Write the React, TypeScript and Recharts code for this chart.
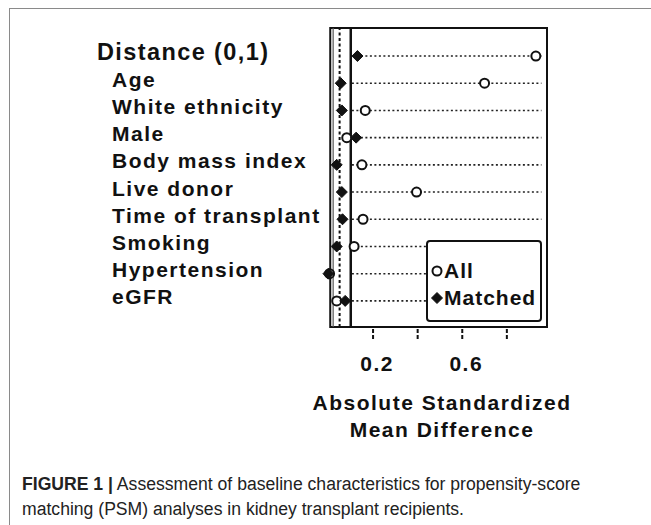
import {
  Legend,
  ReferenceArea,
  ReferenceLine,
  Scatter,
  ScatterChart,
  XAxis,
  YAxis,
} from "recharts";

const categories = [
  "Distance (0,1)",
  "Age",
  "White ethnicity",
  "Male",
  "Body mass index",
  "Live donor",
  "Time of transplant",
  "Smoking",
  "Hypertension",
  "eGFR",
];
const allValues = [0.93, 0.7, 0.165, 0.082, 0.15, 0.395, 0.155, 0.115, 0.005, 0.037];
const matchedValues = [0.13, 0.055, 0.06, 0.124, 0.037, 0.06, 0.063, 0.037, 0.0, 0.075];
const xTicks = [0.2, 0.4, 0.6, 0.8];
const xTickLabels = ["0.2", "", "0.6", ""];

const allData = allValues.map((x, i) => ({ x, y: i, name: categories[i] }));
const matchedData = matchedValues.map((x, i) => ({ x, y: i, name: categories[i] }));

const FONT = "'Liberation Sans', Arial, Helvetica, sans-serif";
const INK = "#111";

function OpenCircle({ cx, cy }: any) {
  return <circle cx={cx} cy={cy} r={4.5} fill="#fff" stroke={INK} strokeWidth={2} />;
}

function Diamond({ cx, cy }: any) {
  const r = 5.5;
  return (
    <polygon
      points={`${cx - r},${cy} ${cx},${cy - r} ${cx + r},${cy} ${cx},${cy + r}`}
      fill={INK}
      stroke={INK}
      strokeWidth={1}
    />
  );
}

function CategoryTick({ x, y, payload }: any) {
  const i = payload.value;
  const first = i === 0;
  return (
    <text
      x={x - (first ? 227 : 212)}
      y={y - 4}
      dy="0.36em"
      textAnchor="start"
      fontFamily={FONT}
      fontWeight={700}
      fontSize={first ? 23.5 : 21}
      letterSpacing={first ? 1.4 : 1.5}
      fill={INK}
    >
      {categories[i]}
    </text>
  );
}

function AxisTitle({ viewBox }: any) {
  const cx = 442;
  return (
    <text
      textAnchor="middle"
      fontFamily={FONT}
      fontWeight={700}
      fontSize={21}
      letterSpacing={1.5}
      fill={INK}
    >
      <tspan x={cx} y={viewBox.y + 83}>Absolute Standardized</tspan>
      <tspan x={cx} y={viewBox.y + 110}>Mean Difference</tspan>
    </text>
  );
}

function LegendBox({ payload }: any) {
  return (
    <div
      style={{
        width: 112,
        height: 63,
        border: `2px solid ${INK}`,
        borderRadius: 4,
        background: "#fff",
        fontFamily: FONT,
        fontWeight: 700,
        fontSize: 21,
        letterSpacing: 1,
        color: INK,
        paddingTop: 15,
        boxSizing: "content-box",
      }}
    >
      {(payload || []).map((p: any, i: number) => (
        <div key={p.value} style={{ display: "flex", alignItems: "center", height: 27 }}>
          <svg width={14} height={14} style={{ marginLeft: 2 }}>
            {i === 0 ? <OpenCircle cx={7} cy={7} /> : <Diamond cx={7} cy={7} />}
          </svg>
          <span style={{ lineHeight: "27px" }}>{p.value}</span>
        </div>
      ))}
    </div>
  );
}

export default function App() {
  return (
    <div
      style={{
        position: "absolute",
        left: 0,
        top: 0,
        width: 651,
        height: 525,
        background: "#fff",
        overflow: "hidden",
      }}
    >
      <div
        style={{
          position: "absolute",
          left: 9,
          top: 8,
          right: 0,
          bottom: 0,
          borderTop: "1.5px solid #8a8a8a",
          borderLeft: "1.5px solid #8a8a8a",
        }}
      />
      <div style={{ position: "absolute", left: 0, top: 0 }}>
        <ScatterChart width={651} height={450} margin={{ top: 28, right: 104, left: 0, bottom: 23 }}>
          <XAxis
            type="number"
            dataKey="x"
            domain={[-0.02, 0.98]}
            ticks={xTicks}
            tickFormatter={(v: number) => xTickLabels[xTicks.indexOf(v)] ?? ""}
            axisLine={false}
            tickLine={{ stroke: INK, strokeWidth: 2, strokeDasharray: "4 2" }}
            tickSize={12}
            tickMargin={17}
            height={100}
            tick={{ fontFamily: FONT, fontWeight: 700, fontSize: 21, fill: INK, letterSpacing: 1.5, dx: 4 }}
            label={{ content: AxisTitle }}
          />
          <YAxis
            type="number"
            dataKey="y"
            domain={[-1.03, 9.96]}
            reversed
            ticks={categories.map((_, i) => i)}
            tick={CategoryTick}
            axisLine={false}
            tickLine={false}
            tickSize={0}
            tickMargin={0}
            width={324}
          />
          <ReferenceArea
            x1={0.008}
            x2={0.98}
            fill="none"
            stroke={INK}
            strokeWidth={2}
            ifOverflow="visible"
          />
          <ReferenceLine x={0.021} stroke="#555" strokeWidth={1.2} />
          <ReferenceLine x={0.05} stroke={INK} strokeWidth={2} strokeDasharray="3 2.5" />
          <ReferenceLine x={0.1} stroke={INK} strokeWidth={2.5} />
          {categories.map((c, i) => (
            <ReferenceLine
              key={c}
              segment={[
                { x: 0.105, y: i },
                { x: 0.955, y: i },
              ]}
              stroke="#222"
              strokeWidth={1.6}
              strokeDasharray="2 2.5"
            />
          ))}
          <Scatter
            name="All"
            data={allData}
            shape={OpenCircle}
            isAnimationActive={false}
          />
          <Scatter
            name="Matched"
            data={matchedData}
            shape={Diamond}
            isAnimationActive={false}
          />
          <Legend
            layout="vertical"
            align="center"
            verticalAlign="middle"
            content={LegendBox}
            wrapperStyle={{ position: "absolute", left: 426, top: 240, width: "auto" }}
          />
        </ScatterChart>
      </div>
      <div
        style={{
          position: "absolute",
          left: 22,
          top: 472,
          fontFamily: FONT,
          fontSize: 17.6,
          lineHeight: "25px",
          color: "#222",
          width: 625,
          whiteSpace: "nowrap",
        }}
      >
        <b>FIGURE 1 |</b> Assessment of baseline characteristics for propensity-score
        <br />
        matching (PSM) analyses in kidney transplant recipients.
      </div>
    </div>
  );
}
